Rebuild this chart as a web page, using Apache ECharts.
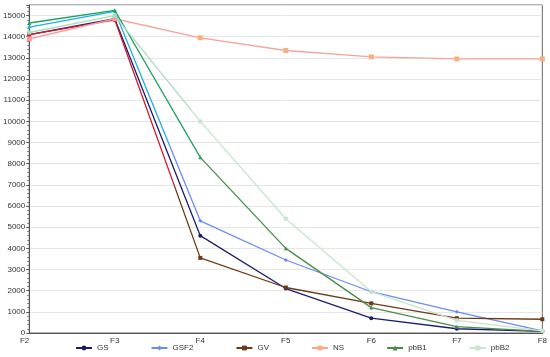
<!DOCTYPE html>
<html>
<head>
<meta charset="utf-8">
<script src="https://cdn.jsdelivr.net/npm/echarts@6/dist/echarts.min.js"></script>
<style>html,body{margin:0;padding:0;background:#fff}#c{width:550px;height:357px}</style>
</head>
<body>
<div id="c"></div>
<script>
const categories = ['F2','F3','F4','F5','F6','F7','F8'];
const GS   = [14100, 14850, 4600, 2100, 700, 200, 80];
const GSF2 = [14450, 15200, 5300, 3450, 1950, 1000, 100];
const GV   = [14100, 14800, 3550, 2150, 1400, 700, 650];
const NS   = [13900, 14850, 13950, 13350, 13050, 12950, 12950];
const pbB1 = [14650, 15250, 8300, 4000, 1200, 300, 80];
const pbB2 = [14200, 15000, 10000, 5400, 1950, 600, 100];
const seriesNames = ['GS','GSF2','GV','NS','pbB1','pbB2'];
const seriesData = [GS, GSF2, GV, NS, pbB1, pbB2];

const mainColors  = ['#1c1c6e','#6b8cf2','#6b3a14','#f7a39a','#4a8c4a','#c9e3cf'];
const earlyColors = ['#1c1c6e','#1fb0e2','#d4162e','#f59a9a','#19a35c','#a8dcc0'];
const markerColors = ['#1c1c6e','#6b8cf2','#6b3a14','#f5b085','#4a8c4a','#c9e3cf'];
const symbols = ['circle','diamond','rect','rect','triangle','rect'];
const switchAt = [1.7, 1.66, 1.7, 1.0, 2.0, 1.9];

const series = seriesNames.map((n, i) => {
  const f = switchAt[i] / (categories.length - 1);
  return {
    name: n, type: 'line', data: seriesData[i],
    symbol: symbols[i], symbolSize: i === 3 ? 5 : 4,
    lineStyle: {
      width: 1.3,
      color: new echarts.graphic.LinearGradient(0, 0, 1, 0, [
        {offset: 0, color: earlyColors[i]},
        {offset: f, color: earlyColors[i]},
        {offset: f, color: mainColors[i]},
        {offset: 1, color: mainColors[i]}
      ])
    },
    itemStyle: {color: p => (p.dataIndex <= switchAt[i] ? earlyColors[i] : markerColors[i])},
    emphasis: {disabled: true}, z: 2 + i
  };
});

const chart = echarts.init(document.getElementById('c'), null, {renderer: 'canvas'});
chart.setOption({
  animation: false,
  backgroundColor: '#fff',
  textStyle: {fontFamily: 'Liberation Sans, Arial, sans-serif'},
  grid: {left: 23, right: 7, top: 5, bottom: 24, show: true, borderColor: '#666', borderWidth: 1},
  legend: {
    bottom: 0, left: 70, itemGap: 42, itemWidth: 16, itemHeight: 6,
    textStyle: {fontSize: 8, color: '#333'},
    data: seriesNames.map((n, i) => ({name: n, itemStyle: {color: markerColors[i]}, lineStyle: {color: mainColors[i]}}))
  },
  xAxis: {
    type: 'category', data: categories, boundaryGap: false,
    axisLine: {lineStyle: {color: '#555'}},
    axisTick: {show: false},
    axisLabel: {fontSize: 8, color: '#333', margin: 4, alignMinLabel: 'right'},
    splitLine: {show: false}
  },
  yAxis: {
    type: 'value', min: 0, max: 15500, interval: 1000,
    axisLine: {show: true, lineStyle: {color: '#555'}},
    axisTick: {show: true, length: 3, lineStyle: {color: '#555'}},
    minorTick: {show: true, splitNumber: 5, length: 2, lineStyle: {color: '#777'}},
    axisLabel: {fontSize: 8, color: '#333', margin: 4, showMaxLabel: false, formatter: v => String(v)},
    splitLine: {lineStyle: {color: '#e6e6e6'}}
  },
  series: series
});
</script>
</body>
</html>
